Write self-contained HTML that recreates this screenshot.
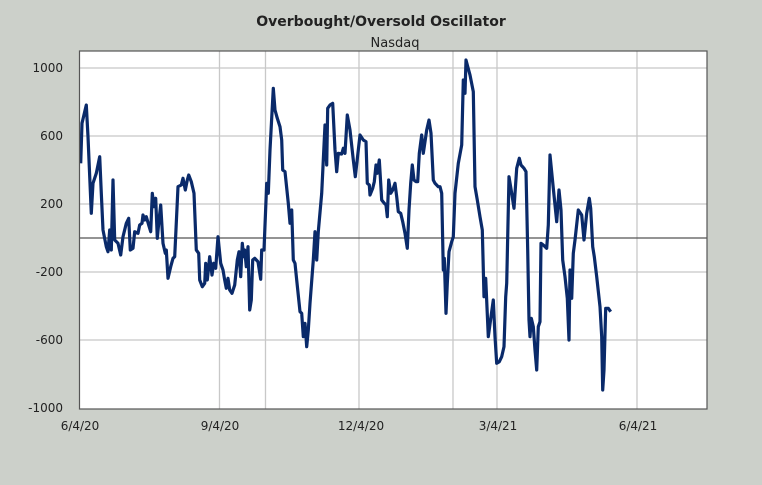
<!DOCTYPE html><html><head><meta charset="utf-8"><style>body{margin:0;background:#ccd0ca;}svg{display:block}text{font-family:"DejaVu Sans","Liberation Sans",sans-serif;fill:#222}</style></head><body>
<svg id="s" width="762" height="485" xmlns="http://www.w3.org/2000/svg">
<rect width="762" height="485" fill="#ccd0ca"/>
<text x="381" y="26" text-anchor="middle" font-size="14" font-weight="bold" fill="#333">Overbought/Oversold  Oscillator</text>
<text x="395" y="47" text-anchor="middle" font-size="13">Nasdaq</text>
<rect x="79.5" y="51" width="627.5" height="358" fill="#fff"/>
<g stroke="#c8c8c8" stroke-width="1.3">
<line x1="80" x2="707" y1="68" y2="68"/><line x1="80" x2="707" y1="136" y2="136"/><line x1="80" x2="707" y1="204" y2="204"/><line x1="80" x2="707" y1="272" y2="272"/><line x1="80" x2="707" y1="340" y2="340"/>
<line x1="219.5" x2="219.5" y1="51" y2="409"/><line x1="265.5" x2="265.5" y1="51" y2="409"/><line x1="359" x2="359" y1="51" y2="409"/><line x1="453" x2="453" y1="51" y2="409"/><line x1="497" x2="497" y1="51" y2="409"/><line x1="637" x2="637" y1="51" y2="409"/>
</g>
<line x1="80" x2="707" y1="238" y2="238" stroke="#555" stroke-width="1.2"/>
<polyline id="p" fill="none" stroke="#0a2a6a" stroke-width="3.2" stroke-linejoin="round" points=""/>
<rect x="79.5" y="51" width="627.5" height="358" fill="none" stroke="#555" stroke-width="1.2"/>
<g font-size="12" text-anchor="end">
<text x="63" y="72">1000</text><text x="63" y="140">600</text><text x="63" y="208">200</text><text x="63" y="276">-200</text><text x="63" y="344">-600</text><text x="63" y="412">-1000</text></g>
<g font-size="12" text-anchor="middle">
<text x="80" y="430">6/4/20</text><text x="220" y="430">9/4/20</text><text x="361" y="430">12/4/20</text><text x="498" y="430">3/4/21</text><text x="638" y="430">6/4/21</text></g>
</svg>
<script>
var segs=[[78,50,[8,340,12,220,25,165,30,260,40,490,45,400,55,370,65,320,70,430,75,540,85,590,90,605,95,540,100,600,105,390,110,570,120,580,128,615,135,560,145,520,152,505,157,600,165,595,170,545,180,550,185,525,192,520,195,495,200,510,205,500,212,525,218,545,223,430,228,470,233,445,238,565,243,510,248,465,255,580,262,610,265,600,270,685,278,650,285,625,290,620,300,410,310,405,315,385,322,420,328,390,332,375,340,395,348,430,355,600,362,610,365,690,373,710,380,700,383,640,388,690,395,620,402,675,407,640,413,655,420,560,428,640,435,660,440,690,445,715,450,685,455,720,462,730,470,705,478,630,483,605,488,680,493,580,497,620,500,600,505,650,510,590,515,780,520,750,524,630,530,625,540,635,548,688]],
[260,50,[5,600,12,600,20,400,25,430,30,300,40,115,45,180,52,205,60,230,65,270,68,360,75,365,85,460,90,520,95,480,100,630,105,640,110,690,120,785,125,790,130,860,135,820,140,890,145,840,150,760,160,630,165,545,170,630,175,545,185,430,190,330,195,225,200,345,203,175,210,165,218,160,225,300,230,365,235,310,245,312,250,295,255,310,262,195,270,240,280,330,286,380,295,300,300,255,310,270,318,275,322,400,328,405,330,435,338,415,343,395,348,345,352,370,358,330,365,450,373,460,378,465,382,500,386,390,392,430,398,420,405,400,410,440,415,485,422,490,428,515,435,550,442,595,447,480,452,400,457,345,462,390,468,395,473,395,478,310,485,255,490,310,495,275,500,240,507,210,513,250,520,390,525,400,535,410]],
[440,50,[0,410,5,430,10,660,13,625,18,790,22,700,27,605,35,575,40,560,45,430,55,340,65,285,70,90,75,130,78,30,82,45,90,75,100,125,105,410,112,450,120,500,127,540,132,740,137,685,145,860,153,800,160,750,165,860,170,940,178,935,185,920,192,890,197,740,200,700,207,380,215,430,222,475,230,355,238,325,243,345,252,355,258,365,263,600,267,810,270,860,274,805,280,830,285,900,290,960,295,830,300,815,303,580,310,585,320,595,325,525,330,315,340,415,350,515,357,420,363,480,368,630,375,680,382,745,387,870,390,660,395,745,400,610,405,570,415,480,425,495,432,570,440,490,448,445,452,475,458,590,463,620,470,680,480,770,485,860,488,1020,492,960,497,775,505,775,512,785]]];
var pts=[];segs.forEach(function(s){var a=s[2];for(var i=0;i<a.length;i+=2)pts.push((s[0]+a[i]/3).toFixed(1)+','+(s[1]+a[i+1]/3).toFixed(1));});
document.getElementById('p').setAttribute('points',pts.join(' '));
</script>
</body></html>
